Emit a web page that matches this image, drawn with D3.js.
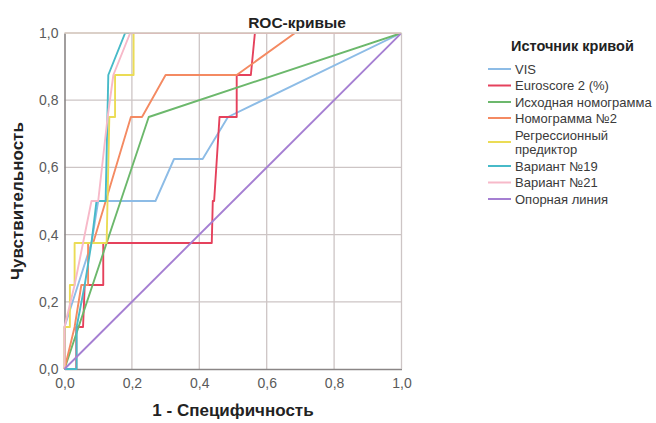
<!DOCTYPE html>
<html>
<head>
<meta charset="utf-8">
<script src="https://cdn.jsdelivr.net/npm/d3@7"></script>
<style>
html,body{margin:0;padding:0;background:#fff;}
svg{display:block;}
text{font-family:"Liberation Sans",Arial,sans-serif;}
</style>
</head>
<body>
<svg id="chart" width="656" height="423"></svg>
<script>
// ---- data ----
const chartTitle = "ROC-кривые";
const xTitle = "1 - Специфичность";
const yTitle = "Чувствительность";
const legendTitle = "Источник кривой";
const tickValues = [0, 0.2, 0.4, 0.6, 0.8, 1.0];
const tickLabels = ["0,0", "0,2", "0,4", "0,6", "0,8", "1,0"];

const seriesNames = ["VIS", "Euroscore 2 (%)", "Исходная номограмма", "Номограмма №2",
  "Регрессионный\nпредиктор", "Вариант №19", "Вариант №21", "Опорная линия"];
const seriesColors = ["#8dbce6", "#e5415c", "#6cb86c", "#f48a62", "#ebdc55", "#47bac8", "#f7b9c9", "#a57fd2"];

const visPts = [[0,0],[0,0.125],[0.04,0.25],[0.08,0.375],[0.1,0.5],[0.27,0.5],[0.325,0.625],[0.41,0.625],[0.485,0.75],[1,1]];
const euroPts = [[0,0],[0.035,0],[0.035,0.125],[0.055,0.125],[0.06,0.25],[0.115,0.25],[0.115,0.375],[0.437,0.375],[0.44,0.5],[0.444,0.5],[0.46,0.75],[0.511,0.75],[0.511,0.875],[0.553,0.875],[0.565,1],[1,1]];
const initNomPts = [[0,0],[0.25,0.75],[1,1]];
const nom2Pts = [[0,0],[0.03,0.125],[0.05,0.25],[0.07,0.25],[0.07,0.375],[0.085,0.375],[0.197,0.75],[0.23,0.75],[0.3,0.875],[0.511,0.875],[0.684,1],[1,1]];
const regrPts = [[0,0],[0,0.125],[0.016,0.125],[0.016,0.25],[0.03,0.25],[0.03,0.375],[0.125,0.375],[0.133,0.75],[0.15,0.75],[0.15,0.875],[0.205,0.875],[0.205,1],[1,1]];
const var19Pts = [[0,0],[0.036,0],[0.036,0.125],[0.06,0.25],[0.08,0.375],[0.095,0.5],[0.122,0.5],[0.13,0.875],[0.18,1],[1,1]];
const var21Pts = [[0,0],[0,0.125],[0.03,0.25],[0.055,0.375],[0.08,0.5],[0.1,0.5],[0.128,0.75],[0.145,0.875],[0.195,1],[1,1]];
const refPts = [[0,0],[1,1]];
const seriesPts = [visPts, euroPts, initNomPts, nom2Pts, regrPts, var19Pts, var21Pts, refPts];

// ---- layout ----
const svg = d3.select("#chart");
const plot = {left: 64.5, right: 401.5, top: 33, bottom: 369};
const x = d3.scaleLinear().domain([0,1]).range([plot.left, plot.right]);
const y = d3.scaleLinear().domain([0,1]).range([plot.bottom, plot.top]);

svg.append("defs").append("clipPath").attr("id", "clip").append("rect")
  .attr("x", plot.left - 4).attr("y", plot.top).attr("width", plot.right - plot.left + 4).attr("height", plot.bottom - plot.top + 4);

const gridColor = "#cdc5c5";
// inner grid
const grid = svg.append("g");
grid.selectAll("line.v").data(tickValues.slice(1, -1)).join("line")
  .attr("x1", d => x(d)).attr("x2", d => x(d)).attr("y1", plot.top).attr("y2", plot.bottom)
  .attr("stroke", gridColor).attr("stroke-width", 1.3);
grid.selectAll("line.h").data(tickValues.slice(1, -1)).join("line")
  .attr("y1", d => y(d)).attr("y2", d => y(d)).attr("x1", plot.left).attr("x2", plot.right)
  .attr("stroke", gridColor).attr("stroke-width", 1.3);

// axes
const xAxis = d3.axisBottom(x).tickValues(tickValues).tickFormat((d,i) => tickLabels[i]).tickSize(0).tickPadding(9);
const yAxis = d3.axisLeft(y).tickValues(tickValues).tickFormat((d,i) => tickLabels[i]).tickSize(0).tickPadding(6);
const gx = svg.append("g").attr("transform", `translate(0,${plot.bottom})`).call(xAxis);
const gy = svg.append("g").attr("transform", `translate(${plot.left},0)`).call(yAxis);
[gx, gy].forEach(g => {
  g.select(".domain").attr("stroke", "#8a8686").attr("stroke-width", 1.6);
  g.selectAll("text").attr("fill", "#5a5a5a").style("font-size", "14px");
});

// curves
const line = d3.line().x(d => x(d[0])).y(d => y(d[1]));
svg.append("g").attr("clip-path", "url(#clip)").selectAll("path").data(seriesPts).join("path")
  .attr("d", line)
  .attr("fill", "none")
  .attr("stroke", (d,i) => seriesColors[i])
  .attr("stroke-width", 1.9)
  .attr("stroke-linejoin", "round");

// outer frame grid lines (top, right) over curves
svg.append("line").attr("x1", plot.left).attr("x2", plot.right).attr("y1", y(1)).attr("y2", y(1))
  .attr("stroke", "#cfc0b6").attr("stroke-width", 1.5);
svg.append("line").attr("x1", x(1)).attr("x2", x(1)).attr("y1", plot.top).attr("y2", plot.bottom)
  .attr("stroke", gridColor).attr("stroke-width", 1.3);

// titles
svg.append("text").attr("x", 297).attr("y", 28).attr("text-anchor", "middle")
  .style("font-size", "15.5px").style("font-weight", "bold").attr("fill", "#222").text(chartTitle);
svg.append("text").attr("x", (plot.left + plot.right)/2).attr("y", 416).attr("text-anchor", "middle")
  .style("font-size", "17px").style("font-weight", "bold").attr("fill", "#222").text(xTitle);
svg.append("text").attr("transform", `translate(22.5,${(plot.top+plot.bottom)/2}) rotate(-90)`).attr("text-anchor", "middle")
  .style("font-size", "17px").style("font-weight", "bold").attr("fill", "#222").text(yTitle);

// legend
const leg = svg.append("g");
leg.append("text").attr("x", 511).attr("y", 51).style("font-size", "14.5px").style("font-weight", "bold")
  .attr("fill", "#222").text(legendTitle);
const rowY = [69, 85.5, 102, 118, 142, 166, 182.5, 199];
seriesNames.forEach((name, i) => {
  const lines = name.split("\n");
  const yc = rowY[i];
  leg.append("line").attr("x1", 488).attr("x2", 511).attr("y1", yc).attr("y2", yc)
    .attr("stroke", seriesColors[i]).attr("stroke-width", 2);
  const t = leg.append("text").attr("x", 515).style("font-size", "13px").attr("fill", "#3a3a3a");
  if (lines.length === 1) {
    t.attr("y", yc + 4.5).text(name);
  } else {
    t.append("tspan").attr("x", 515).attr("y", yc - 2.5).text(lines[0]);
    t.append("tspan").attr("x", 515).attr("y", yc + 12).text(lines[1]);
  }
});
</script>
</body>
</html>
